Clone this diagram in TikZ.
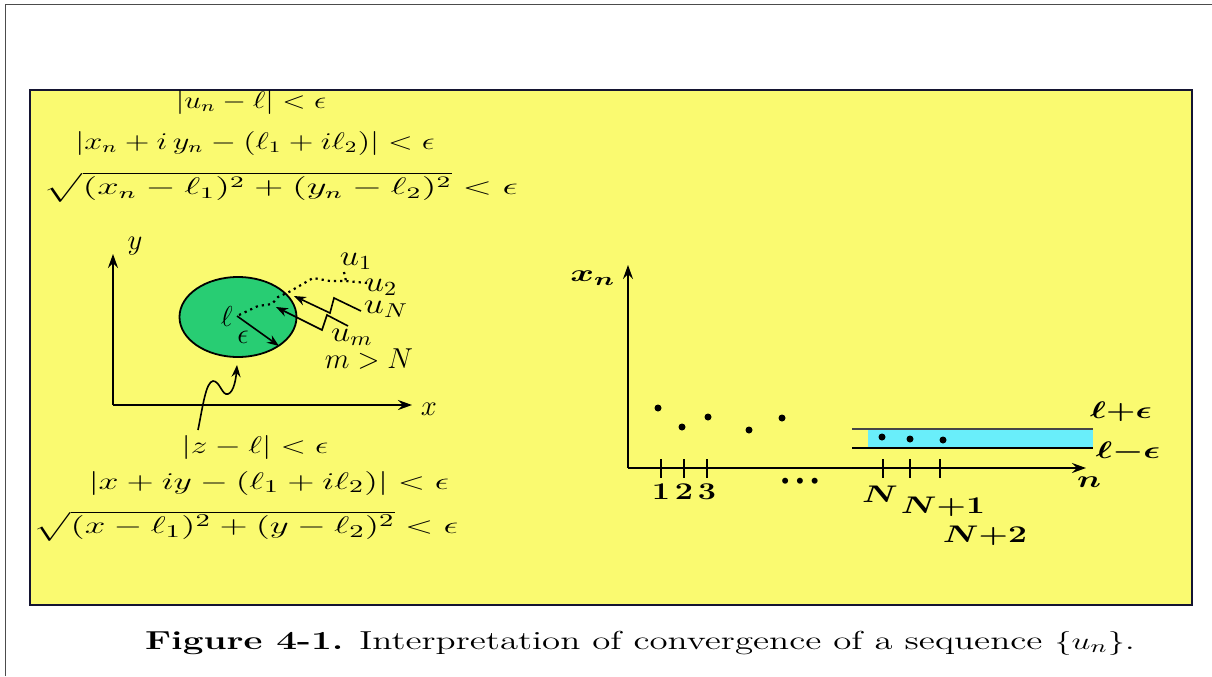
\documentclass[tikz,border=0pt]{standalone}
\usepackage{amsmath,bm,graphicx}
\usetikzlibrary{arrows.meta,shapes.geometric}
\definecolor{boxyellow}{RGB}{250,250,112}
\definecolor{discgreen}{RGB}{40,205,115}
\definecolor{bandcyan}{RGB}{105,238,250}
\definecolor{bordernavy}{RGB}{20,20,50}
\newcommand{\hstretch}[2]{\scalebox{#1}[1]{#2}}
\tikzset{
  mth/.style={inner sep=0pt, font=\fontsize{12}{14}\selectfont},
  mthb/.style={inner sep=0pt, font=\fontsize{12.5}{15}\selectfont},
  lbl/.style={inner sep=0pt, font=\fontsize{14}{16}\selectfont},
  blbl/.style={inner sep=0pt, font=\fontsize{13}{15}\selectfont},
  axisline/.style={line width=0.9pt, -{Stealth[length=7pt,width=5pt,inset=2.5pt]}},
  pointer/.style={line width=0.8pt, -{Stealth[length=6pt,width=4.5pt,inset=2pt]}},
  seqdots/.style={line width=1.1pt, dotted},
  dotpt/.style={circle, fill=black, inner sep=0pt, minimum size=3.5pt},
  tickline/.style={line width=0.8pt},
}
\begin{document}
\begin{tikzpicture}[x=0.5pt,y=-0.5pt]
\useasboundingbox (0,0) rectangle (1212,676);
% page frame
\draw[gray!60!black, line width=0.8pt] (5.5,676) -- (5.5,4.5) -- (1212,4.5);
% yellow panel
\node[draw=bordernavy, fill=boxyellow, line width=1.2pt, minimum width=581pt, minimum height=257.5pt, inner sep=0pt, anchor=north west] (panel) at (29,89) {};

% top formulas
\node[mth] (f1) at (251,102) {\hstretch{1.27}{$|u_n-\ell|<\epsilon$}};
\node[mth] (f2) at (255,143) {\hstretch{1.35}{$|x_n+i\,y_n-(\ell_1+i\ell_2)|<\epsilon$}};
\node[mth] (f3) at (281,187) {\hstretch{1.61}{$\sqrt{(x_n-\ell_1)^2+(y_n-\ell_2)^2}<\epsilon$}};

% bottom formulas
\node[mthb] (b1) at (255,447) {\hstretch{1.39}{$|z-\ell|<\epsilon$}};
\node[mthb] (b2) at (269,483) {\hstretch{1.49}{$|x+iy-(\ell_1+i\ell_2)|<\epsilon$}};
\node[mthb] (b3) at (246,526) {\hstretch{1.54}{$\sqrt{(x-\ell_1)^2+(y-\ell_2)^2}<\epsilon$}};

% left axes
\coordinate (O) at (113,405);
\coordinate (ytip) at (113,254);
\coordinate (xtip) at (412,405);
\draw[axisline] (O) -- (ytip);
\draw[axisline] (O) -- (xtip);
\node[lbl] (ylab) at (135,246) {$y$};
\node[lbl] (xlab) at (429,409) {$x$};

% disc
\node[draw, ellipse, fill=discgreen, line width=0.9pt, minimum width=58.5pt, minimum height=40pt, inner sep=0pt] (disc) at (238,317) {};
\coordinate (L) at (237,316);
\node[lbl, anchor=east] (ell) at (233,316) {$\ell$};
\node[lbl] (eps) at (243,337) {$\epsilon$};
\coordinate (R) at (279,346);
\draw[pointer] (L) -- (R);

% sequence points
\coordinate (p1) at (344,272);
\coordinate (p2) at (367,283);
\draw[seqdots] (p2) -- (346,281) -- (330,281) -- (313,278) -- (289,292) -- (278,297) -- (272,304) -- (258,306) -- (L);
\draw[seqdots] (p1) -- (346,281);
\node[lbl] (u1) at (356,261) {\hstretch{1.2}{$u_1$}};
\node[lbl] (u2) at (381,287) {\hstretch{1.2}{$u_2$}};
\node[lbl] (uN) at (386,309) {\hstretch{1.25}{$u_N$}};
\node[lbl] (um) at (352,337) {\hstretch{1.2}{$u_m$}};
\node[lbl] (mN) at (369,359) {$m>N$};
\draw[pointer] (361,311) -- (334,298) -- (330,313) -- (294,296);
\draw[pointer] (348,326) -- (327,315) -- (322,330) -- (276,307);

% wiggle arrow from |z-l|<eps
\coordinate (wstart) at (198,430);
\coordinate (wend) at (237,365);
\draw[pointer] (wstart) .. controls (203,405) and (206,382) .. (213,381)
  .. controls (220,381) and (222,396) .. (228,394)
  .. controls (234,392) and (236,378) .. (wend);

% right axes
\coordinate (O2) at (628,468);
\coordinate (ytip2) at (628,265);
\coordinate (xtip2) at (1086,468);
\fill[bandcyan] (868,429) rectangle (1093,448);
\draw[gray!55!black, line width=0.9pt] (852,429) -- (1093,429);
\draw[line width=0.9pt] (852,448) -- (1093,448);
\draw[axisline] (O2) -- (ytip2);
\draw[axisline] (O2) -- (xtip2);
\node[blbl] (xn) at (593,278) {\hstretch{1.5}{$\bm{x_n}$}};
\node[blbl] (nlab) at (1089,482) {\hstretch{1.4}{$\bm{n}$}};
\node[blbl] (lpe) at (1121,412) {\hstretch{1.4}{$\bm{\ell{+}\epsilon}$}};
\node[blbl] (lme) at (1128,452) {\hstretch{1.45}{$\bm{\ell{-}\epsilon}$}};

% scattered points
\node[dotpt] (d1) at (658,408) {};
\node[dotpt] (d2) at (682,427) {};
\node[dotpt] (d3) at (708,417) {};
\node[dotpt] (d4) at (749,430) {};
\node[dotpt] (d5) at (782,418) {};
\node[dotpt] (d6) at (882,437) {};
\node[dotpt] (d7) at (910,439) {};
\node[dotpt] (d8) at (943,440) {};

% ticks
\foreach \tx in {661,684,707,883,910,940} {\draw[tickline] (\tx,459) -- (\tx,478);}
\node[blbl] (t1) at (661,492) {\hstretch{1.35}{$\bm{1}$}};
\node[blbl] (t2) at (684,492) {\hstretch{1.35}{$\bm{2}$}};
\node[blbl] (t3) at (707,492) {\hstretch{1.35}{$\bm{3}$}};
\node[inner sep=0pt, font=\fontsize{11}{12}\selectfont] (tdots) at (800,482) {\textbullet\kern-1pt\textbullet\kern-1pt\textbullet};
\node[blbl] (tN) at (880,494) {\hstretch{1.4}{$\bm{N}$}};
\node[blbl] (tN1) at (943,507) {\hstretch{1.4}{$\bm{N{+}1}$}};
\node[blbl] (tN2) at (985,536) {\hstretch{1.4}{$\bm{N{+}2}$}};

% caption
\node[inner sep=0pt, font=\fontsize{13}{15}\selectfont] (cap) at (640,643) {\hstretch{1.42}{\textbf{Figure 4-1.} Interpretation of convergence of a sequence $\{u_n\}$.}};
\end{tikzpicture}
\end{document}
